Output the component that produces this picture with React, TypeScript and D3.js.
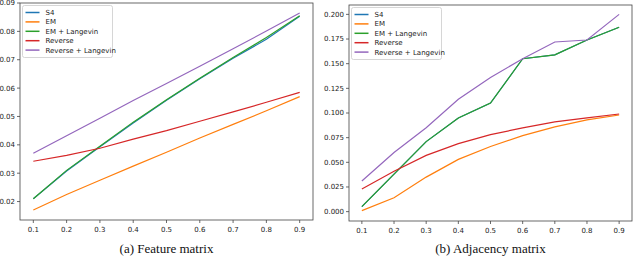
import React from "react";
import * as d3 from "d3";

const xs = [0.1, 0.2, 0.3, 0.4, 0.5, 0.6, 0.7, 0.8, 0.9];
const seriesNames = ["S4", "EM", "EM + Langevin", "Reverse", "Reverse + Langevin"];
const colors = ["#1f77b4", "#ff7f0e", "#2ca02c", "#d62728", "#9467bd"];

// (a) Feature matrix
const featS4 = [0.021, 0.0308, 0.0393, 0.0477, 0.0557, 0.0633, 0.0705, 0.0772, 0.0853];
const featEM = [0.017, 0.0225, 0.0275, 0.0325, 0.0374, 0.0424, 0.0472, 0.052, 0.057];
const featEML = [0.021, 0.031, 0.0395, 0.048, 0.0559, 0.0635, 0.0708, 0.0778, 0.0855];
const featRev = [0.0342, 0.0363, 0.0388, 0.042, 0.045, 0.0483, 0.0516, 0.055, 0.0585];
const featRevL = [0.037, 0.0432, 0.0494, 0.0556, 0.0616, 0.0677, 0.0739, 0.0801, 0.0865];
const featTicks = [0.02, 0.03, 0.04, 0.05, 0.06, 0.07, 0.08, 0.09];

// (b) Adjacency matrix
const adjS4 = [0.005, 0.038, 0.071, 0.095, 0.11, 0.155, 0.159, 0.174, 0.187];
const adjEM = [0.001, 0.014, 0.035, 0.053, 0.066, 0.077, 0.086, 0.093, 0.098];
const adjEML = [0.005, 0.038, 0.071, 0.095, 0.11, 0.155, 0.159, 0.174, 0.187];
const adjRev = [0.023, 0.041, 0.057, 0.069, 0.078, 0.085, 0.091, 0.095, 0.099];
const adjRevL = [0.031, 0.06, 0.085, 0.114, 0.136, 0.155, 0.172, 0.174, 0.2];
const adjTicks = [0, 0.025, 0.05, 0.075, 0.1, 0.125, 0.15, 0.175, 0.2];

const font = "DejaVu Sans, sans-serif";

type PanelProps = {
  left: number;
  right: number;
  top: number;
  bottom: number;
  yDomain: [number, number];
  yTicks: number[];
  yFmt: string;
  series: number[][];
  caption: string;
  legendW: number;
};

function Panel(p: PanelProps) {
  const x = d3.scaleLinear().domain([0.06, 0.94]).range([p.left, p.right]);
  const y = d3.scaleLinear().domain(p.yDomain).range([p.bottom, p.top]);
  const line = d3
    .line<number>()
    .x((_, i) => x(xs[i]))
    .y((d) => y(d));
  const fmt = d3.format(p.yFmt);
  const lx = p.left + 2.5;
  const ly = p.top + 2.5;
  return (
    <g>
      <rect x={p.left} y={p.top} width={p.right - p.left} height={p.bottom - p.top} fill="white" />
      {p.series.map((s, i) => (
        <path key={i} d={line(s) || ""} fill="none" stroke={colors[i]} strokeWidth={1.2} />
      ))}
      <rect x={p.left} y={p.top} width={p.right - p.left} height={p.bottom - p.top} fill="none" stroke="#444" strokeWidth={0.8} />
      {xs.map((t) => (
        <g key={t} transform={`translate(${x(t)},${p.bottom})`}>
          <line y2={3} stroke="#444" strokeWidth={0.8} />
          <text y={12} textAnchor="middle" fontSize={7} fontFamily={font} fill="#222">
            {d3.format(".1f")(t)}
          </text>
        </g>
      ))}
      {p.yTicks.map((t) => (
        <g key={t} transform={`translate(${p.left},${y(t)})`}>
          <line x2={-3} stroke="#444" strokeWidth={0.8} />
          <text x={-5} dy="0.35em" textAnchor="end" fontSize={7} fontFamily={font} fill="#222">
            {fmt(t)}
          </text>
        </g>
      ))}
      <rect x={lx} y={ly} width={p.legendW} height={52} rx={2} fill="white" fillOpacity={0.8} stroke="#ccc" strokeWidth={0.8} />
      {seriesNames.map((n, i) => (
        <g key={n} transform={`translate(${lx + 3},${ly + 7 + i * 9.4})`}>
          <line x1={0} x2={14} stroke={colors[i]} strokeWidth={1.5} />
          <text x={20} dy="0.35em" fontSize={7} fontFamily={font} fill="#222">
            {n}
          </text>
        </g>
      ))}
      <text x={(p.left + p.right) / 2} y={253} textAnchor="middle" fontSize={13} fontFamily="Liberation Serif, Times New Roman, serif" fill="#111">
        {p.caption}
      </text>
    </g>
  );
}

export default function App() {
  return (
    <svg width={640} height={258} style={{ position: "absolute", left: 0, top: 0, background: "white" }}>
      <Panel
        left={20}
        right={313}
        top={3}
        bottom={220}
        yDomain={[0.0135, 0.09]}
        yTicks={featTicks}
        yFmt=".2f"
        series={[featS4, featEM, featEML, featRev, featRevL]}
        caption="(a) Feature matrix"
        legendW={90}
      />
      <Panel
        left={349}
        right={632}
        top={5}
        bottom={221}
        yDomain={[-0.0095, 0.2095]}
        yTicks={adjTicks}
        yFmt=".3f"
        series={[adjS4, adjEM, adjEML, adjRev, adjRevL]}
        caption="(b) Adjacency matrix"
        legendW={90}
      />
    </svg>
  );
}
